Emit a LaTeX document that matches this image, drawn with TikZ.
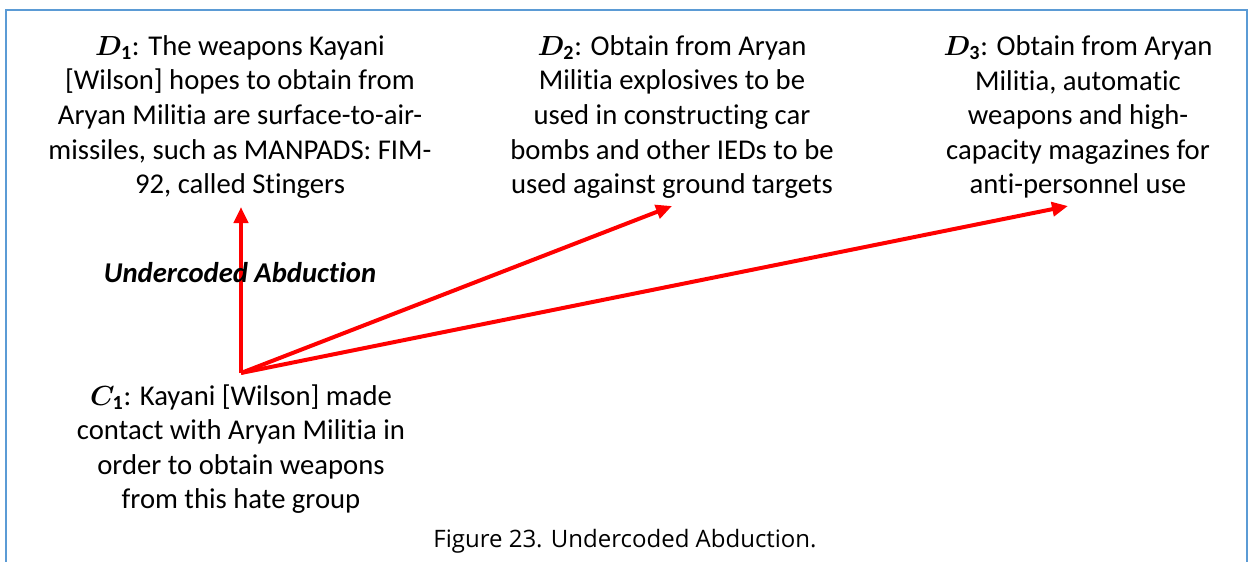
\documentclass[tikz,border=0pt]{standalone}
\usepackage{amsmath}
\usepackage{bm}
\usepackage{fontspec}
\setmainfont{Carlito}[Ligatures=NoCommon]
\newfontfamily\capfont{Open Sans}
\usetikzlibrary{arrows.meta}
\definecolor{framebl}{RGB}{91,155,213}
\definecolor{arrred}{RGB}{255,0,0}
\newcommand{\hyp}[2]{$\bm{#1}_{\mathbf{#2}}$}
\begin{document}
\begin{tikzpicture}[x=0.75pt,y=-0.75pt,
  txt/.style={align=center,inner sep=0pt,font=\fontsize{21.5}{25.9}\selectfont},
  link/.style={draw=arrred,line width=3pt,-{Triangle[length=12pt,width=10.5pt]}}]
\useasboundingbox (0,0) rectangle (1249,561);
% open frame around the figure
\draw[framebl,line width=2pt] (6,575) -- (6,10) -- (1247,10) -- (1247,575);

% hypotheses
\node[txt] (D1) at (240,117) {\hyp{D}{1}: The weapons Kayani\\{}[Wilson] hopes to obtain from\\Aryan Militia are surface-to-air-\\missiles, such as MANPADS: FIM-\\92, called Stingers};
\node[txt] (D2) at (672,117) {\hyp{D}{2}: Obtain from Aryan\\Militia explosives to be\\used in constructing car\\bombs and other IEDs to be\\used against ground targets};
\node[txt] (D3) at (1078,117) {\hyp{D}{3}: Obtain from Aryan\\Militia, automatic\\weapons and high-\\capacity magazines for\\anti-personnel use};

% evidence
\node[txt] (C1) at (241,449) {\hyp{C}{1}: Kayani [Wilson] made\\contact with Aryan Militia in\\order to obtain weapons\\from this hate group};

\coordinate (src) at (241,373);
\coordinate (t1) at (241,207);
\coordinate (t2) at (672,206);
\coordinate (t3) at (1068,206);
\draw[link] (src) -- (t1);
\draw[link] (src) -- (t2);
\draw[link] (src) -- (t3);

\node[txt,font=\fontsize{21.5}{24}\selectfont\bfseries\itshape] (lab) at (240,273) {Undercoded Abduction};

\node[inner sep=0pt,anchor=base,font=\fontsize{18}{20}\selectfont\capfont] (cap) at (625,547) {Figure 23. Undercoded Abduction.};
\end{tikzpicture}
\end{document}
